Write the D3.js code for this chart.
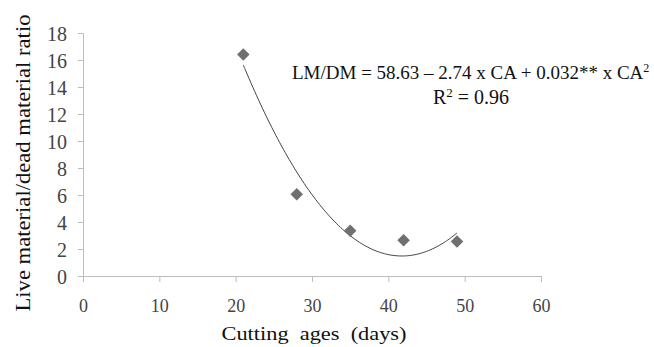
<!DOCTYPE html>
<html>
<head>
<meta charset="utf-8">
<script src="https://cdn.jsdelivr.net/npm/d3@7/dist/d3.min.js"></script>
<style>
  body { margin: 0; background: #fff; }
  svg { display: block; font-family: "Liberation Serif", "Times New Roman", serif; }
</style>
</head>
<body>
<div class="chart"></div>
<script>
// DATA
var cuttingAges = [21, 28, 35, 42, 49];
var ratios = [16.4, 6.05, 3.35, 2.65, 2.55];
var xTicks = [0, 10, 20, 30, 40, 50, 60];
var yTicks = [0, 2, 4, 6, 8, 10, 12, 14, 16, 18];

var width = 654, height = 347;

var svg = d3.select('.chart').append('svg')
  .attr('width', width)
  .attr('height', height);

// SCALES
var x = d3.scaleLinear().domain([0, 60]).range([83, 541]);
var y = d3.scaleLinear().domain([0, 18]).range([276, 33]);

// AXES
var yAxis = svg.append('g')
  .attr('transform', 'translate(' + x(0) + ',0)')
  .call(d3.axisLeft(y).tickValues(yTicks).tickSize(5).tickPadding(11));

var xAxis = svg.append('g')
  .attr('transform', 'translate(0,' + y(0) + ')')
  .call(d3.axisBottom(x).tickValues(xTicks).tickSize(6).tickPadding(17));

svg.selectAll('g').attr('font-family', null);
svg.selectAll('.domain').attr('stroke', '#bdbdbd');
svg.selectAll('.tick line').attr('stroke', '#bdbdbd');
svg.selectAll('.tick text')
  .attr('fill', '#444')
  .style('font-family', '"Liberation Serif", serif');
yAxis.selectAll('.tick text').style('font-size', '20px').attr('dy', '0.36em');
xAxis.selectAll('.tick text').style('font-size', '18px');

// TREND LINE - least squares quadratic fit of the points (like the spreadsheet trendline)
var fitQuad = function (xs, ys) {
  var n = xs.length, s = [0, 0, 0, 0, 0], t = [0, 0, 0];
  for (var i = 0; i < n; i++) {
    for (var k = 0; k < 5; k++) s[k] += Math.pow(xs[i], k);
    for (var j = 0; j < 3; j++) t[j] += ys[i] * Math.pow(xs[i], j);
  }
  // solve 3x3 normal equations
  var m = [[s[0], s[1], s[2], t[0]], [s[1], s[2], s[3], t[1]], [s[2], s[3], s[4], t[2]]];
  for (var c = 0; c < 3; c++) {
    for (var r = c + 1; r < 3; r++) {
      var f = m[r][c] / m[c][c];
      for (var q = c; q < 4; q++) m[r][q] -= f * m[c][q];
    }
  }
  var coef = [0, 0, 0];
  for (var r2 = 2; r2 >= 0; r2--) {
    var sum = m[r2][3];
    for (var q2 = r2 + 1; q2 < 3; q2++) sum -= m[r2][q2] * coef[q2];
    coef[r2] = sum / m[r2][r2];
  }
  return coef;
};
var coef = fitQuad(cuttingAges, ratios);
var curveX = d3.range(cuttingAges[0], cuttingAges[cuttingAges.length - 1] + 0.01, 0.25);

svg.append('path')
  .datum(curveX)
  .attr('fill', 'none')
  .attr('stroke', '#444')
  .attr('stroke-width', 1)
  .attr('d', d3.line()
    .x(function (d) { return x(d); })
    .y(function (d) { return y(coef[0] + coef[1] * d + coef[2] * d * d); })
    .curve(d3.curveBasis));

// POINTS
svg.selectAll('.pt')
  .data(cuttingAges)
  .enter()
  .append('path')
  .attr('class', 'pt')
  .attr('d', d3.symbol().type(d3.symbolDiamond2).size(100))
  .attr('transform', function (d, i) { return 'translate(' + x(d) + ',' + y(ratios[i]) + ')'; })
  .attr('fill', '#707070');

// EQUATION
var eq = svg.append('text')
  .attr('x', 292)
  .attr('y', 79)
  .attr('fill', '#111')
  .style('font-size', '19px');
eq.append('tspan').text('LM/DM = 58.63 \u2013 2.74 x CA + 0.032** x CA');
eq.append('tspan').attr('dy', -7).style('font-size', '12px').text('2');

var r2 = svg.append('text')
  .attr('x', 433)
  .attr('y', 104)
  .attr('fill', '#111')
  .style('font-size', '20px');
r2.append('tspan').text('R');
r2.append('tspan').attr('dy', -7).style('font-size', '13px').text('2');
r2.append('tspan').attr('dy', 7).text(' = 0.96');

// AXIS TITLES
svg.append('text')
  .attr('transform', 'translate(30,163) rotate(-90)')
  .attr('text-anchor', 'middle')
  .attr('fill', '#111')
  .attr('textLength', 297)
  .attr('lengthAdjust', 'spacingAndGlyphs')
  .style('font-size', '22px')
  .text('Live material/dead material ratio');

svg.append('text')
  .attr('x', 314)
  .attr('y', 340)
  .attr('text-anchor', 'middle')
  .attr('fill', '#111')
  .attr('textLength', 185)
  .attr('lengthAdjust', 'spacingAndGlyphs')
  .style('font-size', '18px')
  .style('white-space', 'pre')
  .text('Cutting  ages  (days)');
</script>
</body>
</html>
